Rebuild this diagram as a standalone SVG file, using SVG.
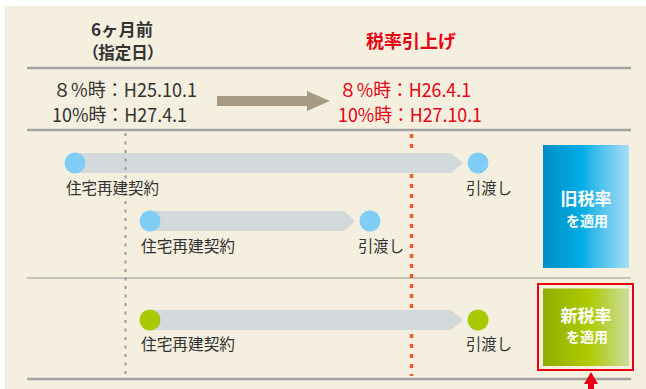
<svg xmlns="http://www.w3.org/2000/svg" width="646" height="389" viewBox="0 0 646 389">
<defs>
<style>
.t{font-family:"Noto Sans CJK JP","Noto Sans",sans-serif;}
.dk{fill:#333333;}
.rd{fill:#e60012;}
.wh{fill:#ffffff;font-weight:bold;text-anchor:middle;}
.hl{stroke:#a3a3a3;stroke-width:2.5;}
.bar{fill:#d3d8da;}
.bc{fill:#7fcdf4;}
.gc{fill:#a8c800;}
</style>
<linearGradient id="gBlue" x1="0" y1="0" x2="1" y2="0">
<stop offset="0" stop-color="#008fc5"/>
<stop offset="0.45" stop-color="#00ade4"/>
<stop offset="0.62" stop-color="#3ebdec"/>
<stop offset="1" stop-color="#a9ddf5"/>
</linearGradient>
<linearGradient id="gGreen" x1="0" y1="0" x2="1" y2="0">
<stop offset="0" stop-color="#8dad00"/>
<stop offset="0.55" stop-color="#b1cc00"/>
<stop offset="0.7" stop-color="#b7cf3a"/>
<stop offset="1" stop-color="#cbde9b"/>
</linearGradient>
</defs>
<rect x="0" y="0" width="646" height="389" fill="#ffffff"/>
<rect x="5" y="6" width="641" height="383" fill="#f4efde"/>

<g id="header">
<text class="t dk" x="122" y="36" font-size="17" font-weight="bold" text-anchor="middle" textLength="62" lengthAdjust="spacing">6ヶ月前</text>
<text class="t dk" x="123" y="58.5" font-size="16.5" font-weight="bold" text-anchor="middle" style="font-feature-settings:'palt'">（指定日）</text>
<text class="t rd" x="411" y="48" font-size="18" font-weight="bold" text-anchor="middle">税率引上げ</text>
</g>

<g id="rules">
<line class="hl" x1="27" y1="68" x2="631" y2="68"/>
<line class="hl" x1="27" y1="130" x2="631" y2="130"/>
<line x1="27" y1="278" x2="631" y2="278" stroke="#b3b3b3" stroke-width="1.3"/>
<line class="hl" x1="27" y1="379" x2="631" y2="379"/>
</g>

<g id="dates">
<text class="t dk" x="53" y="97" font-size="19" textLength="144" lengthAdjust="spacingAndGlyphs">８%時：H25.10.1</text>
<text class="t dk" x="52" y="122" font-size="19" textLength="135" lengthAdjust="spacingAndGlyphs">10%時：H27.4.1</text>
<text class="t rd" x="339" y="97" font-size="19" textLength="132" lengthAdjust="spacingAndGlyphs">８%時：H26.4.1</text>
<text class="t rd" x="338" y="122" font-size="19" textLength="144" lengthAdjust="spacingAndGlyphs">10%時：H27.10.1</text>
<polygon points="217,96 307,96 307,91 330,101 307,111 307,106 217,106" fill="#a89a82"/>
</g>

<line id="deadline" x1="411.5" y1="134" x2="411.5" y2="376" stroke="#f05a28" stroke-width="3.5" stroke-dasharray="4 6"/>

<g id="connectors">
<polygon class="bar" points="75,153 451,153 463,163 451,173 75,173"/>
<polygon class="bar" points="150,211 344,211 355,221 344,231 150,231"/>
<polygon class="bar" points="150,310 451,310 463,320 451,330 150,330"/>
</g>

<line id="designated" x1="125.5" y1="133" x2="125.5" y2="375" stroke="#9a9a9a" stroke-width="2" stroke-dasharray="3 5.5"/>

<g id="row1-contract">
<circle class="bc" cx="75" cy="163" r="10.5"/>
<text class="t dk" x="66" y="194" font-size="16" textLength="93" lengthAdjust="spacingAndGlyphs">住宅再建契約</text>
</g>
<g id="row1-delivery">
<circle class="bc" cx="478" cy="163" r="10.5"/>
<text class="t dk" x="466" y="194" font-size="16" textLength="46" lengthAdjust="spacingAndGlyphs">引渡し</text>
</g>
<g id="row2-contract">
<circle class="bc" cx="150" cy="221" r="10.5"/>
<text class="t dk" x="141" y="252" font-size="16" textLength="94" lengthAdjust="spacingAndGlyphs">住宅再建契約</text>
</g>
<g id="row2-delivery">
<circle class="bc" cx="370" cy="221" r="10.5"/>
<text class="t dk" x="358" y="252" font-size="16" textLength="46" lengthAdjust="spacingAndGlyphs">引渡し</text>
</g>
<g id="row3-contract">
<circle class="gc" cx="150" cy="320" r="10.5"/>
<text class="t dk" x="141" y="350" font-size="16" textLength="94" lengthAdjust="spacingAndGlyphs">住宅再建契約</text>
</g>
<g id="row3-delivery">
<circle class="gc" cx="478" cy="320" r="10.5"/>
<text class="t dk" x="466" y="350" font-size="16" textLength="46" lengthAdjust="spacingAndGlyphs">引渡し</text>
</g>

<g id="old-rate">
<rect x="543" y="145" width="86" height="123" fill="url(#gBlue)"/>
<text class="t wh" x="586" y="205" font-size="17">旧税率</text>
<text class="t wh" x="587" y="226" font-size="14">を適用</text>
</g>

<g id="new-rate">
<rect x="538" y="284" width="95" height="86" fill="none" stroke="#e60012" stroke-width="2"/>
<rect x="543" y="288.5" width="86" height="77.5" fill="url(#gGreen)"/>
<text class="t wh" x="586" y="322" font-size="17">新税率</text>
<text class="t wh" x="587" y="342" font-size="14">を適用</text>
</g>

<polygon id="pointer" points="591,372 598,384 594,384 594,389 588,389 588,384 584,384" fill="#e60012"/>
</svg>
